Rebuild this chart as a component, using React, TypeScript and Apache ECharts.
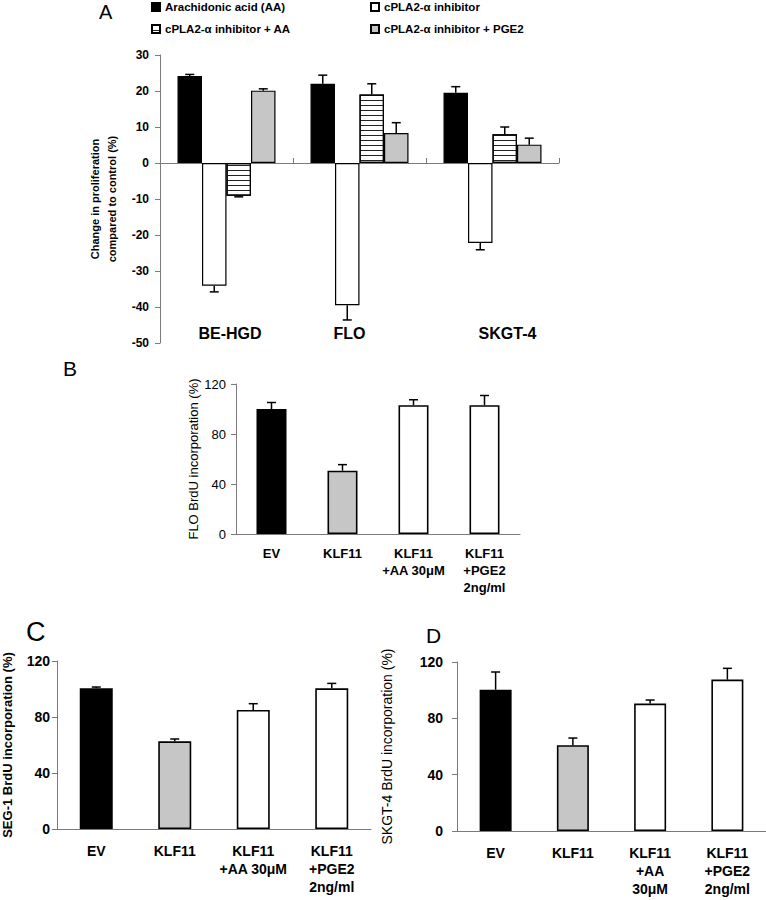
import React, { useEffect, useRef } from 'react';
import * as echarts from 'echarts';

const FONT = '"Liberation Sans", Arial, Helvetica, sans-serif';

// Panel A
const cellLinesA = ['BE-HGD', 'FLO', 'SKGT-4'];
const seriesNamesA = [
  'Arachidonic acid (AA)',
  'cPLA2-α inhibitor',
  'cPLA2-α inhibitor + AA',
  'cPLA2-α inhibitor + PGE2',
];
const aaValues = [24.2, 22.0, 19.5];
const aaErrors = [0.4, 2.4, 1.7];
const inhibitorValues = [-34.1, -39.5, -22.2];
const inhibitorErrors = [1.7, 4.1, 1.9];
const inhibitorAAValues = [-9.1, 19.0, 8.0];
const inhibitorAAErrors = [0.3, 3.0, 2.0];
const inhibitorPGE2Values = [20.1, 8.3, 5.1];
const inhibitorPGE2Errors = [0.5, 2.9, 1.8];
const yTicksA = { min: -50, max: 30, interval: 10 };

// Panels B, C, D
const categoriesB = ['EV', 'KLF11', 'KLF11\n+AA 30μM', 'KLF11\n+PGE2\n2ng/ml'];
const categoriesC = ['EV', 'KLF11', 'KLF11\n+AA 30μM', 'KLF11\n+PGE2\n2ng/ml'];
const categoriesD = ['EV', 'KLF11', 'KLF11\n+AA\n30μM', 'KLF11\n+PGE2\n2ng/ml'];
const floValues = [100, 50.7, 103.1, 103.1];
const floErrors = [5.2, 4.8, 4.3, 7.7];
const seg1Values = [100.5, 62.6, 85, 100.5];
const seg1Errors = [0.9, 1.7, 4.5, 3.5];
const skgt4Values = [100.3, 60.9, 90.5, 107.5];
const skgt4Errors = [12.6, 5.1, 2.5, 8.0];
const yTicksBCD = { min: 0, max: 120, interval: 40 };

const BLACK = '#000000';
const GRAY = '#c6c6c6';
const WHITE = '#ffffff';
const AXIS = '#7a7a7a';
const barColorsBCD = [BLACK, GRAY, WHITE, WHITE];

const errData = (vals: number[], errs: number[]) =>
  vals.map((v, i) => [i, v, v >= 0 ? v + errs[i] : v - errs[i]]);

const makeErrorRender = (offset: number, cap: number) => (params: any, api: any) => {
  const idx = api.value(0);
  const v = api.value(1);
  const end = api.value(2);
  const p0 = api.coord([idx, v]);
  const p1 = api.coord([idx, end]);
  const x = p0[0] + offset;
  return {
    type: 'group',
    children: [
      { type: 'line', shape: { x1: x, y1: p0[1], x2: x, y2: p1[1] }, style: { stroke: '#000', lineWidth: 1.5 } },
      { type: 'line', shape: { x1: x - cap, y1: p1[1], x2: x + cap, y2: p1[1] }, style: { stroke: '#000', lineWidth: 1.5 } },
    ],
  };
};

export default function App() {
  const ref = useRef<HTMLDivElement>(null);
  useEffect(() => {
    if (!ref.current) return;
    const chart = echarts.init(ref.current, undefined, { renderer: 'svg' });
    const barWA = 24.5;

    const hatchDecal = {
      symbol: 'rect',
      symbolSize: 1,
      dashArrayX: [10, 0],
      dashArrayY: [1, 4],
      rotation: 0,
      color: '#222',
      backgroundColor: '#fff',
    };

    const aStyles = [
      { color: BLACK, borderColor: '#000', borderWidth: 1.2 },
      { color: WHITE, borderColor: '#000', borderWidth: 1.2 },
      { color: WHITE, borderColor: '#000', borderWidth: 1.2, decal: hatchDecal },
      { color: GRAY, borderColor: '#000', borderWidth: 1.2 },
    ];
    const aVals = [aaValues, inhibitorValues, inhibitorAAValues, inhibitorPGE2Values];
    const aErrs = [aaErrors, inhibitorErrors, inhibitorAAErrors, inhibitorPGE2Errors];

    const valueAxisBase = (gridIndex: number, t: any, labelStyle: any, name: string, nameStyle: any, nameGap: number, margin: number) => ({
      type: 'value',
      gridIndex,
      min: t.min,
      max: t.max,
      interval: t.interval,
      name,
      nameLocation: 'middle',
      nameRotate: 90,
      nameGap,
      nameTextStyle: { fontFamily: FONT, color: '#000', ...nameStyle },
      axisLine: { show: true, lineStyle: { color: AXIS, width: 1 } },
      axisTick: { show: true, inside: false, length: 5, lineStyle: { color: AXIS } },
      axisLabel: { fontFamily: FONT, color: '#000', margin, ...labelStyle },
      splitLine: { show: false },
    });

    const catAxis = (gridIndex: number, data: string[], labelStyle: any, margin: number) => ({
      type: 'category',
      gridIndex,
      data,
      axisLine: { show: true, lineStyle: { color: AXIS, width: 1 } },
      axisTick: { show: false },
      axisLabel: { fontFamily: FONT, color: '#000', margin, interval: 0, ...labelStyle },
    });

    const series: any[] = [];
    aVals.forEach((vals, s) => {
      series.push({
        type: 'bar',
        name: seriesNamesA[s],
        xAxisIndex: 0,
        yAxisIndex: 0,
        data: vals,
        barWidth: barWA,
        barGap: '0%',
        itemStyle: aStyles[s],
      });
    });
    aVals.forEach((vals, s) => {
      series.push({
        type: 'custom',
        xAxisIndex: 0,
        yAxisIndex: 0,
        renderItem: makeErrorRender((s - 1.5) * barWA, 4.5),
        data: errData(vals, aErrs[s]),
        encode: { x: 0, y: [1, 2] },
        z: 5,
        silent: true,
      });
    });

    const bcd = [
      { vals: floValues, errs: floErrors, x: 2, y: 1, bw: 30 },
      { vals: seg1Values, errs: seg1Errors, x: 3, y: 2, bw: 33 },
      { vals: skgt4Values, errs: skgt4Errors, x: 4, y: 3, bw: 32 },
    ];
    bcd.forEach((p) => {
      series.push({
        type: 'bar',
        xAxisIndex: p.x,
        yAxisIndex: p.y,
        barWidth: p.bw,
        data: p.vals.map((v, i) => ({
          value: v,
          itemStyle: { color: barColorsBCD[i], borderColor: '#000', borderWidth: 1.6 },
        })),
      });
      series.push({
        type: 'custom',
        xAxisIndex: p.x,
        yAxisIndex: p.y,
        renderItem: makeErrorRender(0, 4.5),
        data: errData(p.vals, p.errs),
        encode: { x: 0, y: [1, 2] },
        z: 5,
        silent: true,
      });
    });

    const legendText = { fontFamily: FONT, fontSize: 11.5, fontWeight: 'bold', color: '#000' };
    const legendBase = {
      orient: 'vertical',
      top: 1,
      padding: 0,
      itemWidth: 8,
      itemHeight: 8,
      itemGap: 10,
      icon: 'rect',
      selectedMode: false,
      textStyle: legendText,
    };

    // label shifts for panel A cell-line names (visual placement only)
    const shiftA: Record<string, string> = { 'BE-HGD': 'r', FLO: 'l', 'SKGT-4': 'rr' };

    const option: any = {
      animation: false,
      backgroundColor: '#fff',
      textStyle: { fontFamily: FONT },
      legend: [
        { ...legendBase, left: 151, data: [seriesNamesA[0], seriesNamesA[2]] },
        { ...legendBase, left: 370, data: [seriesNamesA[1], seriesNamesA[3]] },
      ],
      graphic: [
        { type: 'text', left: 99, top: 2, style: { text: 'A', font: `normal 20px ${FONT}`, fill: '#000' } },
        { type: 'text', left: 63, top: 358, style: { text: 'B', font: `normal 21px ${FONT}`, fill: '#000' } },
        { type: 'text', left: 26, top: 618, style: { text: 'C', font: `normal 27px ${FONT}`, fill: '#000' } },
        { type: 'text', left: 426, top: 625, style: { text: 'D', font: `normal 21px ${FONT}`, fill: '#000' } },
      ],
      grid: [
        { left: 160, top: 55, width: 399, height: 288 },
        { left: 236, top: 384, width: 284, height: 150 },
        { left: 57, top: 661, width: 314, height: 168 },
        { left: 457, top: 662, width: 309, height: 169 },
      ],
      xAxis: [
        {
          type: 'category',
          gridIndex: 0,
          data: cellLinesA,
          axisLine: { show: true, onZero: true, lineStyle: { color: AXIS, width: 1 } },
          axisTick: { show: true, inside: true, length: 5, lineStyle: { color: AXIS } },
          axisLabel: { show: false },
        },
        {
          type: 'category',
          gridIndex: 0,
          position: 'bottom',
          data: cellLinesA,
          axisLine: { show: false, onZero: false },
          axisTick: { show: false },
          axisLabel: {
            inside: true,
            margin: 2,
            interval: 0,
            formatter: (v: string) => `{${shiftA[v]}|${v}}`,
            rich: {
              r: { fontFamily: FONT, fontSize: 16, fontWeight: 'bold', color: '#000', padding: [0, 0, 0, 7] },
              l: { fontFamily: FONT, fontSize: 16, fontWeight: 'bold', color: '#000', padding: [0, 20, 0, 0] },
              rr: { fontFamily: FONT, fontSize: 16, fontWeight: 'bold', color: '#000', padding: [0, 0, 0, 30] },
            },
          },
        },
        catAxis(1, categoriesB, { fontSize: 13, fontWeight: 'bold', lineHeight: 17 }, 11),
        catAxis(2, categoriesC, { fontSize: 14, fontWeight: 'bold', lineHeight: 18 }, 13),
        catAxis(3, categoriesD, { fontSize: 14, fontWeight: 'bold', lineHeight: 18 }, 13),
      ],
      yAxis: [
        valueAxisBase(0, yTicksA, { fontSize: 12, fontWeight: 'bold' },
          'Change in proliferation\ncompared to control (%)', { fontSize: 11, fontWeight: 'bold', lineHeight: 17 }, 35, 11),
        valueAxisBase(1, yTicksBCD, { fontSize: 13 }, 'FLO BrdU incorporation (%)', { fontSize: 13 }, 36, 10),
        valueAxisBase(2, yTicksBCD, { fontSize: 14, fontWeight: 'bold' }, 'SEG-1 BrdU incorporation (%)', { fontSize: 13, fontWeight: 'bold' }, 43, 7),
        valueAxisBase(3, yTicksBCD, { fontSize: 14, fontWeight: 'bold' }, 'SKGT-4 BrdU incorporation (%)', { fontSize: 14 }, 63, 14),
      ],
      series,
    };
    chart.setOption(option);
    return () => chart.dispose();
  }, []);
  return (
    <div
      ref={ref}
      style={{ position: 'absolute', left: 0, top: 0, width: 766, height: 900, background: '#fff' }}
    />
  );
}
